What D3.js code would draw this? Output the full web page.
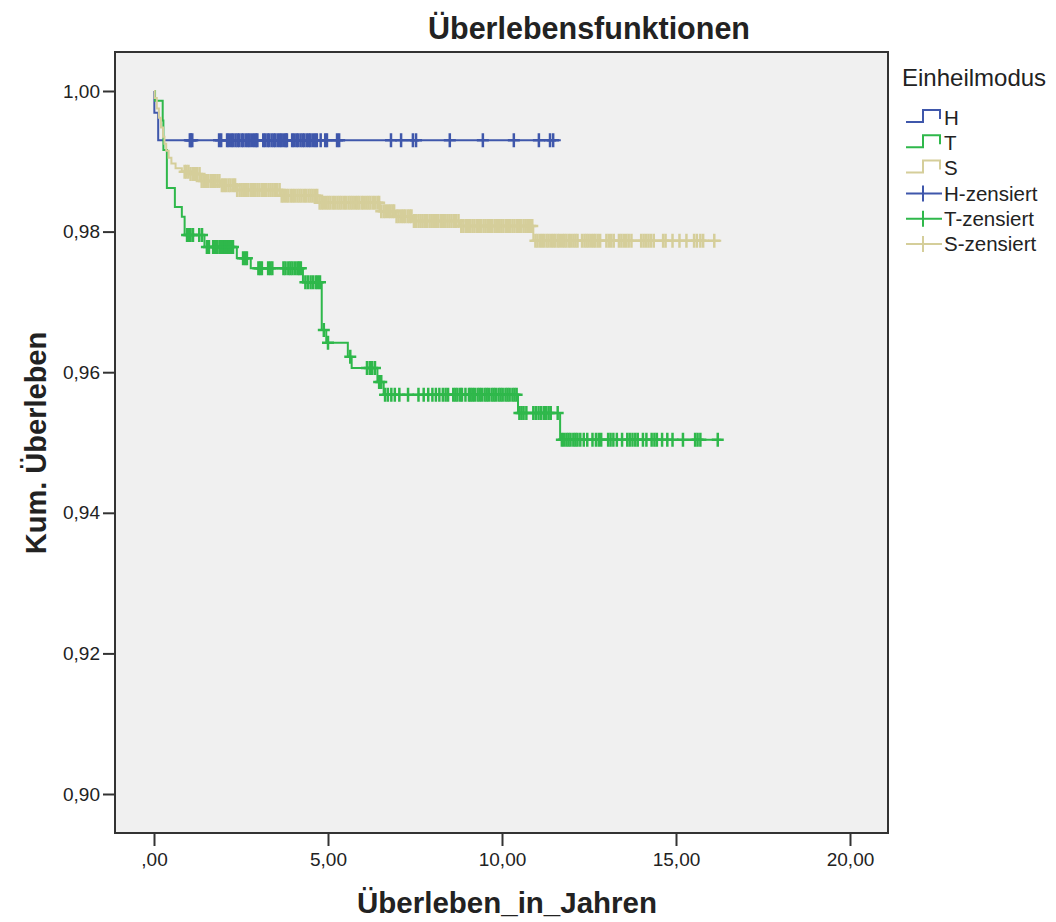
<!DOCTYPE html>
<html>
<head>
<meta charset="utf-8">
<script src="https://cdn.jsdelivr.net/npm/d3@7"></script>
<style>
  body { margin: 0; background: #fff; }
  text { font-family: "Liberation Sans", Arial, sans-serif; fill: #222; }
</style>
</head>
<body>
<script>
// Kaplan-Meier curves: step times (years) and survival after each step
var hTimes = [0, 0.01, 0.12];
var hSurv = [1.0, 0.9969, 0.9930];
var hEnd = 11.69;
var hCensored = [1.03, 1.06, 1.1, 1.87, 1.93, 2.1, 2.15, 2.22, 2.27, 2.34, 2.4, 2.45, 2.52, 2.57, 2.64, 2.7,
  2.75, 2.82, 2.88, 2.93, 2.97, 3.14, 3.19, 3.26, 3.31, 3.38, 3.44, 3.49, 3.56, 3.62, 3.67, 3.74, 3.79, 3.82,
  3.97, 4.02, 4.09, 4.14, 4.21, 4.27, 4.32, 4.39, 4.45, 4.5, 4.57, 4.63, 4.68, 4.79, 4.92, 4.97,
  5.26, 5.32, 6.81, 7.1, 7.44, 7.53, 8.5, 9.45, 10.34, 11.06, 11.38, 11.47];

var tTimes = [0, 0.03, 0.25, 0.27, 0.37, 0.6, 0.8, 0.88, 1.45, 2.38, 2.78, 4.28, 4.82, 4.95, 5.57, 5.68, 6.42, 6.6, 10.46, 11.67];
var tSurv = [1.0, 0.9986, 0.9958, 0.9916, 0.9862, 0.9835, 0.9821, 0.9795, 0.9778, 0.9762, 0.9748, 0.9728,
  0.9660, 0.9642, 0.9622, 0.9606, 0.9586, 0.9568, 0.9542, 0.9504];
var tEnd = 16.3;
var tCensored = [0.95, 1.0, 1.05, 1.12, 1.3, 1.38, 1.52, 1.58, 1.7, 1.76, 1.81, 1.88, 1.93, 1.99, 2.04, 2.1, 2.16,
  2.22, 2.27, 2.56, 2.62, 2.67, 3.0, 3.05, 3.1, 3.28, 3.34, 3.4, 3.72, 3.78, 3.86, 3.92, 3.98, 4.05, 4.12, 4.17,
  4.22, 4.35, 4.42, 4.5, 4.57, 4.65, 4.71, 4.77, 4.88, 5.0, 5.64, 6.12, 6.2, 6.27, 6.35,
  6.47, 6.53, 6.64, 6.72, 6.82, 6.92, 7.05, 7.3, 7.6, 7.75, 7.88, 8.0, 8.1, 8.2, 8.3, 8.38, 8.45, 8.6, 8.66,
  8.72, 8.8, 8.85, 8.95, 9.05, 9.1, 9.16, 9.22, 9.3, 9.36, 9.42, 9.5, 9.56, 9.62, 9.7, 9.76, 9.82, 9.9, 9.96,
  10.02, 10.1, 10.16, 10.22, 10.3, 10.36, 10.42,
  10.5, 10.56, 10.62, 10.7, 10.9, 10.97, 11.05, 11.12, 11.2, 11.27, 11.34, 11.4, 11.6,
  11.72, 11.78, 11.85, 11.91, 11.97, 12.05, 12.11, 12.17, 12.25, 12.35, 12.45, 12.6, 12.7, 12.78, 12.85,
  13.05, 13.12, 13.2, 13.3, 13.45, 13.6, 13.67, 13.75, 13.83, 13.9, 14.05, 14.15, 14.3, 14.38, 14.45, 14.6,
  14.75, 14.9, 15.2, 15.55, 15.62, 15.7, 16.2];

var sTimes = [0, 0.02, 0.08, 0.14, 0.2, 0.26, 0.3, 0.35, 0.42, 0.5, 0.62, 0.8, 1.0, 1.32, 1.9, 2.39, 3.62,
  4.75, 6.49, 6.93, 7.44, 8.79, 10.9];
var sSurv = [1.0, 0.9990, 0.9975, 0.9962, 0.9948, 0.9935, 0.9925, 0.9915, 0.9905, 0.9897, 0.9890, 0.9885,
  0.9882, 0.9872, 0.9866, 0.9859, 0.9851, 0.9841, 0.9829, 0.9822, 0.9815, 0.9808, 0.9787];
var sEnd = 16.3;
var sCensored = [0.88, 0.93, 0.99, 1.05, 1.12, 1.18, 1.24, 1.31, 1.37, 1.44, 1.5, 1.56, 1.63, 1.69, 1.75,
  1.82, 1.88, 1.95, 2.01, 2.07, 2.14, 2.2, 2.27, 2.33, 2.39, 2.46, 2.52, 2.58, 2.65, 2.71, 2.78, 2.84, 2.9,
  2.97, 3.03, 3.1, 3.16, 3.22, 3.29, 3.35, 3.41, 3.48, 3.54, 3.61, 3.67, 3.73, 3.8, 3.86, 3.93, 3.99, 4.05,
  4.12, 4.18, 4.24, 4.31, 4.37, 4.44, 4.5, 4.56, 4.63, 4.69, 4.76, 4.82, 4.88, 4.95, 5.01, 5.07, 5.14, 5.2,
  5.27, 5.33, 5.39, 5.46, 5.52, 5.59, 5.65, 5.71, 5.78, 5.84, 5.9, 5.97, 6.03, 6.1, 6.16, 6.22, 6.29, 6.35,
  6.42, 6.47, 6.53, 6.6, 6.66, 6.73, 6.79, 6.85, 6.9, 6.97, 7.03, 7.1, 7.16, 7.22, 7.29, 7.35, 7.4, 7.47,
  7.53, 7.6, 7.66, 7.72, 7.79, 7.85, 7.92, 7.98, 8.04, 8.11, 8.17, 8.24, 8.3, 8.36, 8.43, 8.49, 8.55, 8.62,
  8.68, 8.75, 8.83, 8.89, 8.96, 9.02, 9.08, 9.15, 9.21, 9.28, 9.34, 9.4, 9.47, 9.53, 9.6, 9.66, 9.72, 9.79,
  9.85, 9.91, 9.98, 10.04, 10.11, 10.17, 10.23, 10.3, 10.36, 10.43, 10.49, 10.55, 10.62, 10.68, 10.74,
  10.81, 10.87, 10.96, 11.02, 11.09, 11.15, 11.21, 11.28, 11.34, 11.41, 11.47, 11.53, 11.6, 11.66, 11.73,
  11.79, 11.85, 11.92, 11.98, 12.05, 12.11, 12.17, 12.3, 12.37, 12.43, 12.49, 12.56, 12.62, 12.68, 12.75,
  12.82, 13.0, 13.07, 13.14, 13.21, 13.36, 13.43, 13.5, 13.57, 13.64, 13.72, 14.0, 14.07, 14.14, 14.21,
  14.28, 14.36, 14.63, 14.7, 14.9, 15.1, 15.3, 15.52, 15.6, 15.7, 15.78, 16.1];

var xTicks = [0, 5, 10, 15, 20];
var yTicks = [0.90, 0.92, 0.94, 0.96, 0.98, 1.00];
var legendLabels = ['H', 'T', 'S', 'H-zensiert', 'T-zensiert', 'S-zensiert'];

var colors = { H: '#3f57ab', T: '#2fb84b', S: '#d5ce9a' };

var width = 1056, height = 922;
var plot = { left: 115, top: 52, right: 888, bottom: 833 };

var svg = d3.select('body').append('svg')
  .attr('width', width)
  .attr('height', height);

var x = d3.scaleLinear().domain([0, 20]).range([154, 850]);
var y = d3.scaleLinear().domain([0.90, 1.00]).range([794, 91]);

// plot background
svg.append('rect')
  .attr('x', plot.left).attr('y', plot.top)
  .attr('width', plot.right - plot.left).attr('height', plot.bottom - plot.top)
  .attr('fill', '#f0f0f0');

var fmtX = function (d) { return d === 0 ? ',00' : d3.format('.2f')(d).replace('.', ','); };
var fmtY = function (d) { return d3.format('.2f')(d).replace('.', ','); };

svg.append('g')
  .attr('transform', 'translate(' + plot.left + ',0)')
  .call(d3.axisLeft(y).tickValues(yTicks).tickSize(12).tickPadding(3).tickFormat(fmtY))
  .call(function (g) { g.select('.domain').remove(); })
  .call(function (g) {
    g.selectAll('line').attr('stroke', '#333').attr('stroke-width', 2);
    g.selectAll('text').attr('font-size', 19).attr('fill', '#222')
      .attr('font-family', '"Liberation Sans", Arial, sans-serif');
  });

svg.append('g')
  .attr('transform', 'translate(0,' + plot.bottom + ')')
  .call(d3.axisBottom(x).tickValues(xTicks).tickSize(13).tickPadding(7).tickFormat(fmtX))
  .call(function (g) { g.select('.domain').remove(); })
  .call(function (g) {
    g.selectAll('line').attr('stroke', '#333').attr('stroke-width', 2);
    g.selectAll('text').attr('font-size', 19).attr('fill', '#222')
      .attr('font-family', '"Liberation Sans", Arial, sans-serif');
  });

var stepLine = d3.line()
  .x(function (d) { return x(d[0]); })
  .y(function (d) { return y(d[1]); })
  .curve(d3.curveStepAfter);

function survAt(times, surv, t) {
  var i = d3.bisectRight(times, t) - 1;
  return surv[Math.max(0, i)];
}

var series = [
  { key: 'H', times: hTimes, surv: hSurv, end: hEnd, cens: hCensored },
  { key: 'T', times: tTimes, surv: tSurv, end: tEnd, cens: tCensored },
  { key: 'S', times: sTimes, surv: sSurv, end: sEnd, cens: sCensored }
];

var curves = svg.append('g');
series.forEach(function (s) {
  var pts = s.times.map(function (t, i) { return [t, s.surv[i]]; });
  pts.push([s.end, s.surv[s.surv.length - 1]]);
  curves.append('path')
    .attr('d', stepLine(pts))
    .attr('fill', 'none')
    .attr('stroke', colors[s.key])
    .attr('stroke-width', 2);
});

// censor marks (+)
series.forEach(function (s) {
  curves.append('g').selectAll('path')
    .data(s.cens)
    .enter().append('path')
    .attr('d', function (t) {
      var cx = x(t), cy = y(survAt(s.times, s.surv, t));
      return 'M' + cx + ',' + (cy - 7) + 'v14M' + (cx - 6) + ',' + cy + 'h12';
    })
    .attr('stroke', colors[s.key])
    .attr('stroke-width', 2.5)
    .attr('fill', 'none');
});

// frame
svg.append('rect')
  .attr('x', plot.left).attr('y', plot.top)
  .attr('width', plot.right - plot.left).attr('height', plot.bottom - plot.top)
  .attr('fill', 'none')
  .attr('stroke', '#333')
  .attr('stroke-width', 2);

// titles
svg.append('text')
  .attr('x', 589).attr('y', 39)
  .attr('text-anchor', 'middle')
  .attr('font-size', 30.5).attr('font-weight', 'bold')
  .text('Überlebensfunktionen');

svg.append('text')
  .attr('x', 507).attr('y', 913)
  .attr('text-anchor', 'middle')
  .attr('font-size', 29.5).attr('font-weight', 'bold')
  .text('Überleben_in_Jahren');

svg.append('text')
  .attr('transform', 'translate(46,443) rotate(-90)')
  .attr('text-anchor', 'middle')
  .attr('font-size', 29).attr('font-weight', 'bold')
  .text('Kum. Überleben');

// legend
var legend = svg.append('g');
legend.append('text')
  .attr('x', 902).attr('y', 86)
  .attr('font-size', 24)
  .text('Einheilmodus');

var legendKeys = ['H', 'T', 'S', 'H', 'T', 'S'];
var rowY = d3.scalePoint().domain(d3.range(6)).range([118, 244]);

legendLabels.forEach(function (label, i) {
  var cy = rowY(i);
  var c = colors[legendKeys[i]];
  if (i < 3) {
    legend.append('path')
      .attr('d', 'M906,' + (cy + 4) + 'H923V' + (cy - 8) + 'H940V' + (cy + 1))
      .attr('fill', 'none').attr('stroke', c).attr('stroke-width', 2);
  } else {
    legend.append('path')
      .attr('d', 'M906,' + cy + 'H942M923,' + (cy - 8) + 'v16')
      .attr('fill', 'none').attr('stroke', c).attr('stroke-width', 2);
  }
  legend.append('text')
    .attr('x', 944).attr('y', cy + 7)
    .attr('font-size', 20.5)
    .text(label);
});
</script>
</body>
</html>
